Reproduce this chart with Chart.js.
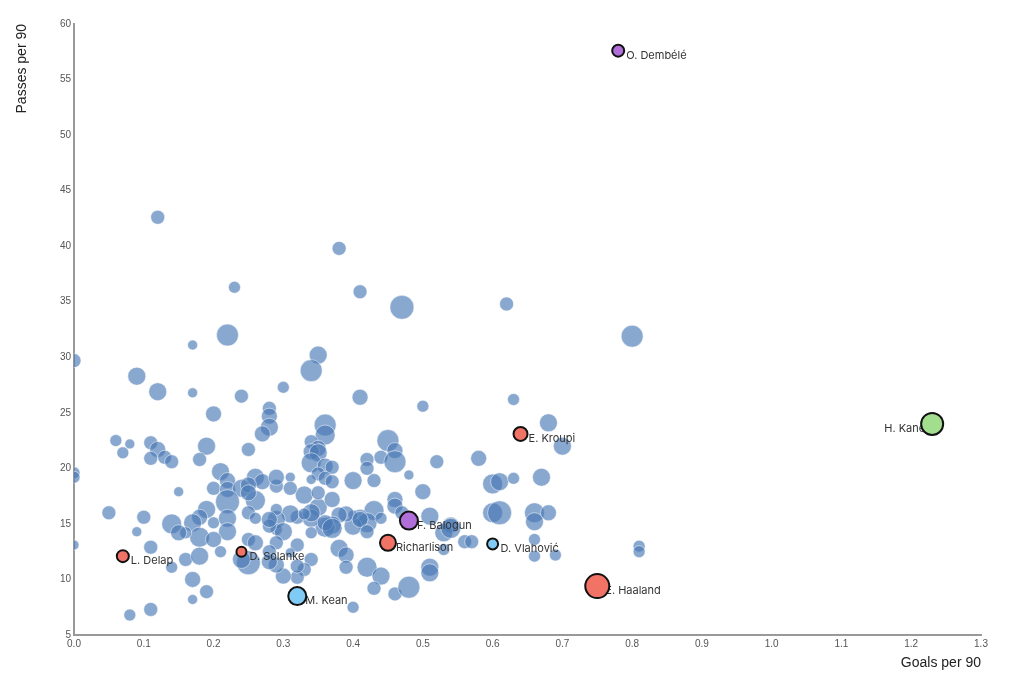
<!DOCTYPE html>
<html>
<head>
<meta charset="utf-8">
<title>Goals per 90 vs Passes per 90</title>
<script src="https://cdn.jsdelivr.net/npm/chart.js@4.4.1/dist/chart.umd.min.js"></script>
<style>
    html, body { margin: 0; padding: 0; background: #fff; }
    #wrap { width: 1024px; height: 687px; position: relative; }
</style>
</head>
<body>
<div id="wrap"><canvas id="scatterChart"></canvas></div>
<script>
// highlighted players
const highlightNames  = ['O. Dembélé', 'H. Kane', 'E. Kroupi', 'F. Balogun', 'Richarlison', 'D. Vlahović', 'E. Haaland', 'M. Kean', 'L. Delap', 'D. Solanke'];
const highlightGoals  = [0.78, 1.23, 0.64, 0.48, 0.45, 0.60, 0.75, 0.32, 0.07, 0.24];
const highlightPasses = [57.6, 24.0, 23.1, 15.3, 13.3, 13.2, 9.4, 8.5, 12.1, 12.5];
const highlightSize   = [6, 11, 7, 9, 8, 5.5, 12, 9, 6, 5];
const highlightColors = ['#b06fd8', '#a3de8e', '#f07366', '#b06fd8', '#f07366', '#80caf6', '#f07366', '#80caf6', '#f07366', '#f07366'];

// all other players
const otherGoals = [
    0.12, 0.38, 0.23, 0.41, 0.47, 0.62, 0.80, 0.22, 0.17, 0.00, 0.35, 0.34, 0.09, 0.12, 0.17, 0.30, 0.24, 0.41, 0.63, 0.50,
    0.68, 0.70, 0.58, 0.20, 0.28, 0.28, 0.28, 0.27,
    0.36, 0.36, 0.34, 0.35, 0.34, 0.35, 0.34, 0.36, 0.37, 0.35, 0.36, 0.37, 0.34, 0.31, 0.40, 0.43, 0.42, 0.42, 0.44, 0.45,
    0.46, 0.46, 0.48, 0.52, 0.50, 0.46, 0.46, 0.47, 0.43, 0.41, 0.42, 0.40, 0.40, 0.39, 0.38, 0.37, 0.36, 0.35, 0.34, 0.33,
    0.35, 0.37, 0.32, 0.31, 0.29, 0.29, 0.29, 0.30, 0.29, 0.32, 0.31, 0.34, 0.33, 0.32, 0.30, 0.29, 0.38, 0.39, 0.42, 0.44,
    0.43, 0.46, 0.48, 0.40, 0.36, 0.37, 0.34, 0.34, 0.33, 0.29, 0.31, 0.44, 0.41, 0.42, 0.39, 0.32,
    0.51, 0.54, 0.53, 0.54, 0.56, 0.57, 0.51, 0.51, 0.53, 0.60, 0.61, 0.66, 0.68, 0.66, 0.66, 0.66, 0.69, 0.81, 0.81, 0.60,
    0.61, 0.63, 0.67,
    0.11, 0.12, 0.11, 0.13, 0.14, 0.19, 0.18, 0.25, 0.21, 0.22, 0.20, 0.15, 0.22, 0.24, 0.26, 0.27, 0.25, 0.22, 0.26, 0.25,
    0.25, 0.19, 0.18, 0.17, 0.20, 0.22, 0.22, 0.18, 0.20, 0.21, 0.14, 0.16, 0.15, 0.10, 0.05, 0.09, 0.11, 0.14, 0.16, 0.18,
    0.17, 0.19, 0.17, 0.11, 0.08, 0.25, 0.26, 0.25, 0.24, 0.28, 0.28, 0.28, 0.26, 0.28, 0.29, 0.06, 0.08, 0.07, 0.00, 0.00,
    0.00
];
const otherPasses = [
    42.6, 39.8, 36.3, 35.9, 34.5, 34.8, 31.9, 32.0, 31.1, 29.7, 30.2, 28.8, 28.3, 26.9, 26.8, 27.3, 26.5, 26.4, 26.2, 25.6,
    24.1, 22.0, 20.9, 24.9, 25.4, 24.7, 23.7, 23.1,
    23.9, 23.0, 22.4, 21.8, 21.5, 21.4, 20.5, 20.2, 20.1, 19.5, 19.1, 18.8, 19.0, 19.2, 18.9, 18.9, 20.8, 20.0, 21.0, 22.5,
    21.6, 20.6, 19.4, 20.6, 17.9, 17.2, 16.6, 16.0, 16.2, 15.6, 15.1, 14.8, 15.8, 15.9, 15.8, 14.9, 14.7, 16.5, 15.5, 17.6,
    17.8, 17.2, 15.6, 15.9, 15.4, 16.3, 14.5, 14.3, 13.3, 13.1, 12.4, 11.8, 10.9, 10.2, 10.3, 11.3, 12.8, 12.2, 11.1, 10.3,
    9.2, 8.7, 9.3, 7.5, 15.1, 14.6, 14.2, 16.0, 15.9, 18.4, 18.2, 15.5, 15.4, 14.3, 11.1, 11.2,
    15.7, 14.9, 14.2, 14.6, 13.4, 13.4, 11.1, 10.6, 12.7, 16.0, 16.0, 16.0, 16.0, 15.2, 13.6, 12.1, 12.2, 13.0, 12.5, 18.6,
    18.8, 19.1, 19.2,
    22.3, 21.7, 20.9, 21.0, 20.6, 22.0, 20.8, 21.7, 19.7, 18.9, 18.2, 17.9, 18.1, 18.2, 19.2, 18.8, 18.5, 17.0, 17.1, 17.8,
    16.0, 16.3, 15.6, 15.1, 15.1, 15.5, 14.3, 13.8, 13.6, 12.5, 15.0, 14.2, 14.2, 15.6, 16.0, 14.3, 12.9, 11.1, 11.8, 12.1,
    10.0, 8.9, 8.2, 7.3, 6.8, 13.6, 13.3, 11.5, 11.8, 12.5, 11.6, 14.8, 15.5, 15.4, 19.2, 22.5, 22.2, 21.4, 19.6, 19.2,
    13.1
];
const otherSize = [
    7, 7, 6, 7, 12, 7, 11, 11, 5, 7, 9, 11, 9, 9, 5, 6, 7, 8, 6, 6,
    9, 9, 8, 8, 7, 8, 9, 8,
    11, 10, 7, 8, 8, 9, 10, 8, 7, 7, 7, 7, 5, 5, 9, 7, 7, 7, 7, 11,
    8, 11, 5, 7, 8, 8, 8, 7, 10, 8, 10, 9, 5, 8, 8, 9, 10, 9, 9, 9,
    7, 8, 7, 9, 9, 6, 6, 9, 7, 7, 5, 7, 7, 7, 8, 8, 9, 8, 10, 9,
    7, 7, 11, 6, 8, 10, 6, 9, 6, 7, 7, 6, 8, 7, 7, 7,
    9, 8, 9, 10, 7, 7, 9, 9, 6, 10, 12, 10, 8, 9, 6, 6, 6, 6, 6, 10,
    9, 6, 9,
    7, 8, 7, 7, 7, 9, 7, 7, 9, 8, 7, 5, 8, 9, 9, 8, 8, 12, 10, 8,
    7, 9, 8, 9, 6, 9, 9, 10, 8, 6, 10, 6, 8, 7, 7, 5, 7, 6, 7, 9,
    8, 7, 5, 7, 6, 7, 8, 12, 9, 7, 8, 7, 6, 8, 8, 6, 5, 6, 6, 6,
    5
];

// x / y tick range
const xMin = 0, xMax = 1.3, xStep = 0.1;
const yMin = 5, yMax = 60, yStep = 5;

document.addEventListener('DOMContentLoaded', function () {
    Chart.defaults.font.family = '"Liberation Sans", Arial, sans-serif';

    const highlightData = highlightNames.map((n, i) => ({ x: highlightGoals[i], y: highlightPasses[i], r: highlightSize[i] }));
    const otherData = otherGoals.map((g, i) => ({ x: g, y: otherPasses[i], r: otherSize[i] }));

    // player names, drawn after the blue bubbles and under the highlighted ones
    const playerLabels = {
        id: 'playerLabels',
        afterDatasetDraw(chart, args) {
            if (args.index !== 1) return;
            const meta = chart.getDatasetMeta(0);
            const ctx = chart.ctx;
            ctx.save();
            ctx.font = '11px Inter, "Noto Sans", sans-serif';
            ctx.fillStyle = '#333';
            ctx.textBaseline = 'middle';
            meta.data.forEach((pt, i) => {
                const onLeft = pt.x > chart.chartArea.right - 90;
                ctx.textAlign = onLeft ? 'right' : 'left';
                ctx.fillText(highlightNames[i], pt.x + (onLeft ? -7 : 8), pt.y + 5);
            });
            ctx.restore();
        }
    };

    const canvas = document.getElementById('scatterChart');
    new Chart(canvas, {
        type: 'bubble',
        data: {
            datasets: [{
                label: 'Highlighted',
                data: highlightData,
                order: 0,
                backgroundColor: highlightColors,
                borderColor: '#111',
                borderWidth: 2
            }, {
                label: 'Players',
                data: otherData,
                order: 1,
                backgroundColor: 'rgba(74, 122, 181, 0.65)',
                borderColor: 'rgba(255, 255, 255, 0.5)',
                borderWidth: 1
            }]
        },
        options: {
            responsive: true,
            maintainAspectRatio: false,
            animation: false,
            events: [],
            layout: {
                padding: { left: 10, right: 43, top: 24, bottom: 11 }
            },
            scales: {
                x: {
                    type: 'linear',
                    min: xMin,
                    max: xMax,
                    afterFit: s => { s.height = 41; },
                    grid: { display: false, drawTicks: false },
                    border: { display: true, color: '#999', width: 2 },
                    ticks: {
                        stepSize: xStep,
                        autoSkip: false,
                        maxRotation: 0,
                        padding: 3,
                        color: '#555',
                        font: { size: 10 },
                        callback: v => Number(v).toFixed(1)
                    },
                    title: {
                        display: true,
                        text: 'Goals per 90',
                        align: 'end',
                        color: '#222',
                        font: { size: 14 }
                    }
                },
                y: {
                    type: 'linear',
                    min: yMin,
                    max: yMax,
                    afterFit: s => { s.width = 64; },
                    grid: { display: false, drawTicks: false },
                    border: { display: true, color: '#999', width: 2 },
                    ticks: {
                        stepSize: yStep,
                        autoSkip: false,
                        padding: 3,
                        color: '#555',
                        font: { size: 10 }
                    },
                    title: {
                        display: true,
                        text: 'Passes per 90',
                        align: 'end',
                        color: '#222',
                        font: { size: 14 }
                    }
                }
            },
            plugins: {
                legend: { display: false },
                tooltip: { enabled: false }
            }
        },
        plugins: [playerLabels]
    });
});
</script>
</body>
</html>
